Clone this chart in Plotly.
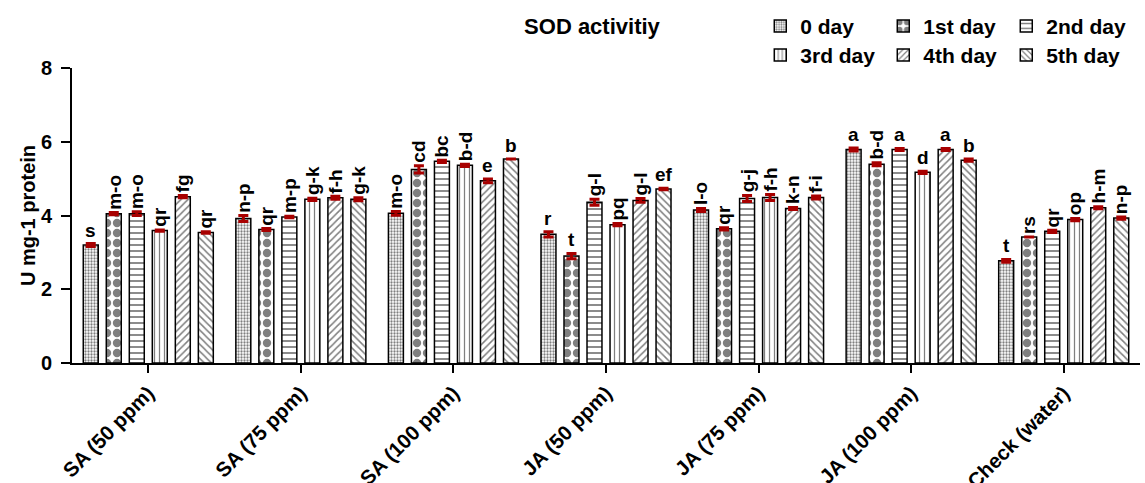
import plotly.graph_objects as go

groups = ["SA (50 ppm)", "SA (75 ppm)", "SA (100 ppm)", "JA (50 ppm)",
          "JA (75 ppm)", "JA (100 ppm)", "Check (water)"]
series_names = ["0 day", "1st day", "2nd day", "3rd day", "4th day", "5th day"]

day0 = [3.20, 3.92, 4.06, 3.49, 4.15, 5.79, 2.77]
day1 = [4.05, 3.62, 5.25, 2.90, 3.64, 5.39, 3.42]
day2 = [4.05, 3.96, 5.47, 4.36, 4.46, 5.79, 3.57]
day3 = [3.59, 4.44, 5.36, 3.75, 4.49, 5.17, 3.89]
day4 = [4.51, 4.48, 4.94, 4.41, 4.19, 5.79, 4.21]
day5 = [3.54, 4.44, 5.53, 4.72, 4.49, 5.50, 3.93]

err0 = [0.04, 0.08, 0.05, 0.07, 0.04, 0.04, 0.04]
err1 = [0.03, 0.03, 0.10, 0.07, 0.03, 0.04, 0.00]
err2 = [0.05, 0.02, 0.03, 0.08, 0.08, 0.03, 0.03]
err3 = [0.02, 0.03, 0.03, 0.03, 0.08, 0.03, 0.03]
err4 = [0.03, 0.04, 0.05, 0.05, 0.03, 0.03, 0.03]
err5 = [0.02, 0.04, 0.00, 0.02, 0.04, 0.03, 0.03]

let0 = ["s", "n-p", "m-o", "r", "l-o", "a", "t"]
let1 = ["m-o", "qr", "cd", "t", "qr", "b-d", "rs"]
let2 = ["m-o", "m-p", "bc", "g-l", "g-j", "a", "qr"]
let3 = ["qr", "g-k", "b-d", "pq", "f-h", "d", "op"]
let4 = ["fg", "f-h", "e", "g-l", "k-n", "a", "h-m"]
let5 = ["qr", "g-k", "b", "ef", "f-i", "b", "n-p"]

y_ticks = [0, 2, 4, 6, 8]

values = [day0, day1, day2, day3, day4, day5]
errors = [err0, err1, err2, err3, err4, err5]
letters = [let0, let1, let2, let3, let4, let5]
patterns = [(".", 3, 0.45), (".", 10, 0.55), ("-", 6, 0.3), ("|", 5, 0.25),
            ("/", 5, 0.3), ("\\", 5, 0.3)]
horizontal_labels = {"ef"}

FONT = "Liberation Sans, Arial, sans-serif"
BARGAP = 0.095
BARGROUPGAP = 0.35
xs = list(range(len(groups)))

fig = go.Figure()
for j, name in enumerate(series_names):
    shape, size, sol = patterns[j]
    fig.add_trace(go.Bar(
        x=xs, y=values[j], name=name,
        legend="legend" if j < 3 else "legend2",
        marker=dict(color="white", line=dict(color="black", width=1.5),
                    pattern=dict(shape=shape, size=size, solidity=sol,
                                 fgcolor="black", bgcolor="white",
                                 fillmode="overlay")),
        error_y=dict(type="data", array=errors[j], color="#a80000",
                     thickness=3, width=5, visible=True),
    ))

slot = (1 - BARGAP) / len(series_names)
annotations = []
for j in range(len(series_names)):
    for i in xs:
        lab = letters[j][i]
        xpos = i + (j - (len(series_names) - 1) / 2) * slot
        top = values[j][i] + errors[j][i]
        rotated = len(lab) > 1 and lab not in horizontal_labels
        annotations.append(dict(
            x=xpos, y=top, xref="x", yref="y", text=lab, showarrow=False,
            textangle=-90 if rotated else 0,
            xanchor="center", yanchor="bottom", yshift=1,
            font=dict(family=FONT, size=19, color="black", weight="bold")))

legend_style = dict(orientation="h", xref="container", yref="container",
                    xanchor="left", yanchor="top",
                    entrywidth=78, entrywidthmode="pixels",
                    font=dict(family=FONT, size=21, color="black", weight="bold"),
                    traceorder="normal", bgcolor="rgba(0,0,0,0)")

fig.update_layout(
    width=1145, height=483,
    barmode="group", bargap=BARGAP, bargroupgap=BARGROUPGAP,
    plot_bgcolor="white", paper_bgcolor="white",
    margin=dict(l=72, r=5, t=68, b=120, autoexpand=False),
    title=dict(text="SOD activitiy", x=0.517, xref="container", xanchor="center",
               y=0.945, yref="container", yanchor="middle",
               font=dict(family=FONT, size=22, color="black", weight="bold")),
    legend=dict(x=0.664, y=0.988, **legend_style),
    legend2=dict(x=0.664, y=0.928, **legend_style),
    xaxis=dict(range=[-0.5, len(groups) - 0.5], tickvals=xs, ticktext=groups,
               tickangle=-45, showline=True, linecolor="black", linewidth=2,
               ticks="outside", ticklen=8, tickwidth=2, tickcolor="black",
               showgrid=False, zeroline=False, automargin=False,
               tickfont=dict(family=FONT, size=20.5, color="black", weight="bold")),
    yaxis=dict(range=[0, 8], tickvals=y_ticks, showline=True, linecolor="black",
               linewidth=2, ticks="outside", ticklen=9, tickwidth=2,
               tickcolor="black", showgrid=False, zeroline=False, automargin=False,
               ticklabelstandoff=5,
               title=dict(text="U mg-1 protein", standoff=0,
                          font=dict(family=FONT, size=20, color="black", weight="bold")),
               tickfont=dict(family=FONT, size=20, color="black", weight="bold")),
    annotations=annotations,
)

fig.write_html("out.html", config={"displayModeBar": False},
               post_script="document.body.style.margin='0';")
